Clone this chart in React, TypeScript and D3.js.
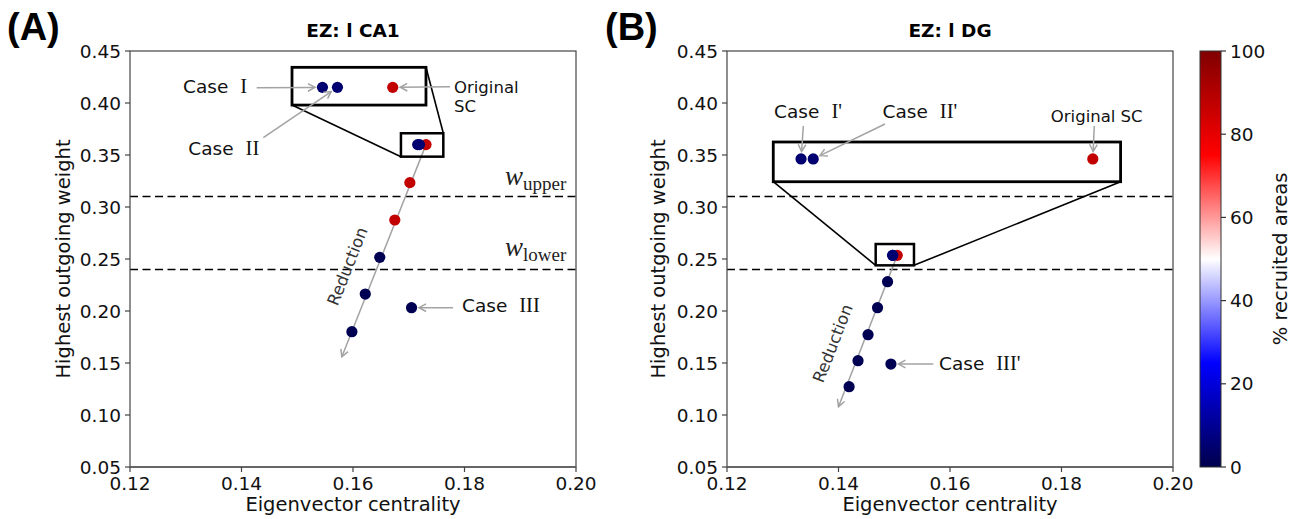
import React from "react";
import * as d3 from "d3";

// ---------------- data ----------------
const xTicks = [0.12, 0.14, 0.16, 0.18, 0.2];
const yTicks = [0.05, 0.1, 0.15, 0.2, 0.25, 0.3, 0.35, 0.4, 0.45];
const cbTicks = [0, 20, 40, 60, 80, 100];
const thresholds = [0.31, 0.24];

// Panel A (EZ: l CA1): reduction trajectory
const aTrendX = [0.1731, 0.1702, 0.1675, 0.1648, 0.1622, 0.1598];
const aTrendY = [0.36, 0.3234, 0.2875, 0.2516, 0.2163, 0.1801];
const aTrendPct = [87, 87, 87, 1, 1, 1];
// Case I, Case II, Case III
const aCaseX = [0.1716, 0.17192, 0.1705];
const aCaseY = [0.36, 0.36, 0.2032];
const aCasePct = [5, 5, 1];
const aReductionEnd = [0.158, 0.156];
const aZoomBox = { x: [0.1686, 0.1762], y: [0.3484, 0.3709] };
const aInsetRect = { x: [0.14906, 0.17309], y: [0.398, 0.4343] };
const aInsetDomX = [0.17095, 0.17381];
const aInsetDomY = [0.3553, 0.3653];

// Panel B (EZ: l DG)
const bTrendX = [0.15054, 0.1488, 0.147, 0.1453, 0.1435, 0.1419];
const bTrendY = [0.2535, 0.2282, 0.2032, 0.1772, 0.1522, 0.1272];
const bTrendPct = [87, 1, 1, 1, 1, 1];
// Case I', Case II', Case III'
const bCaseX = [0.1497, 0.149735, 0.1494];
const bCaseY = [0.2535, 0.2535, 0.149];
const bCasePct = [5, 5, 1];
const bReductionEnd = [0.14, 0.108];
const bZoomBox = { x: [0.14667, 0.15354], y: [0.2439, 0.2644] };
const bInsetRect = { x: [0.1283, 0.1906], y: [0.3243, 0.3625] };
const bInsetDomX = [0.14962, 0.15062];
const bInsetDomY = [0.24777, 0.25777];

const seismic = d3
  .scaleLinear<string>()
  .domain([0, 25, 50, 75, 100])
  .range(["#00004c", "#0000ff", "#ffffff", "#ff0000", "#800000"]);

// ---------------- layout ----------------
const TOP = 51;
const BOTTOM = 467;
const SANS = "DejaVu Sans";
const SERIF = "Liberation Serif";
const GRAY = "#a3a3a3";

type Ann = {
  parts: { t: string; serif?: boolean; dx?: number }[][];
  tx: number;
  ty: number;
  anchor: "start" | "middle";
  size?: number;
  tail: [number, number];
  target: { inset: boolean; idx: number };
};

const aAnns: Ann[] = [
  { parts: [[{ t: "Case" }, { t: "I", serif: true, dx: 12 }]], tx: 0.12951, ty: 0.4157, anchor: "start", tail: [0.14273, 0.4147], target: { inset: true, idx: 0 } },
  { parts: [[{ t: "Case" }, { t: "II", serif: true, dx: 12 }]], tx: 0.13046, ty: 0.3564, anchor: "start", tail: [0.14391, 0.3666], target: { inset: true, idx: 1 } },
  { parts: [[{ t: "Original" }], [{ t: "SC" }]], tx: 0.17812, ty: 0.4157, anchor: "start", size: 16.5, tail: [0.1774, 0.4157], target: { inset: true, idx: 2 } },
  { parts: [[{ t: "Case" }, { t: "III", serif: true, dx: 12 }]], tx: 0.17955, ty: 0.2051, anchor: "start", tail: [0.17794, 0.2032], target: { inset: false, idx: 2 } },
];

const bAnns: Ann[] = [
  { parts: [[{ t: "Case" }, { t: "I'", serif: true, dx: 12 }]], tx: 0.13453, ty: 0.3916, anchor: "middle", tail: [0.13369, 0.3779], target: { inset: true, idx: 0 } },
  { parts: [[{ t: "Case" }, { t: "II'", serif: true, dx: 12 }]], tx: 0.1546, ty: 0.3923, anchor: "middle", tail: [0.14834, 0.3798], target: { inset: true, idx: 1 } },
  { parts: [[{ t: "Original SC" }]], tx: 0.18632, ty: 0.3875, anchor: "middle", size: 16.5, tail: [0.18588, 0.3779], target: { inset: true, idx: 2 } },
  { parts: [[{ t: "Case" }, { t: "III'", serif: true, dx: 12 }]], tx: 0.15803, ty: 0.1497, anchor: "start", tail: [0.157, 0.149], target: { inset: false, idx: 2 } },
];

function shorten(x1: number, y1: number, x2: number, y2: number, s: number) {
  const dx = x2 - x1, dy = y2 - y1;
  const L = Math.hypot(dx, dy);
  return [x2 - (dx / L) * s, y2 - (dy / L) * s];
}

function head(x1: number, y1: number, x2: number, y2: number, len = 8, ang = 0.5) {
  const a = Math.atan2(y2 - y1, x2 - x1);
  const p1 = [x2 - len * Math.cos(a - ang), y2 - len * Math.sin(a - ang)];
  const p2 = [x2 - len * Math.cos(a + ang), y2 - len * Math.sin(a + ang)];
  return `M${p1[0]},${p1[1]}L${x2},${y2}L${p2[0]},${p2[1]}`;
}

type PanelCfg = {
  left: number;
  right: number;
  title: string;
  letter: string;
  letterX: number;
  ylabelX: number;
  trendX: number[];
  trendY: number[];
  trendPct: number[];
  caseX: number[];
  caseY: number[];
  casePct: number[];
  redEnd: number[];
  zoomBox: { x: number[]; y: number[] };
  insetRect: { x: number[]; y: number[] };
  insetDomX: number[];
  insetDomY: number[];
  connectors: [string, string][];
  anns: Ann[];
  wLabels: boolean;
};

function Panel({ c }: { c: PanelCfg }) {
  const x = d3.scaleLinear().domain([0.12, 0.2]).range([c.left, c.right]);
  const y = d3.scaleLinear().domain([0.05, 0.45]).range([BOTTOM, TOP]);
  const ix = d3.scaleLinear().domain(c.insetDomX).range([x(c.insetRect.x[0]), x(c.insetRect.x[1])]);
  const iy = d3.scaleLinear().domain(c.insetDomY).range([y(c.insetRect.y[0]), y(c.insetRect.y[1])]);
  const R = 5.6;

  const corner = (box: { x: number[]; y: number[] }, k: string) => [
    x(k[1] === "l" ? box.x[0] : box.x[1]),
    y(k[0] === "b" ? box.y[0] : box.y[1]),
  ];

  // reduction arrow
  const rx1 = x(c.trendX[0]), ry1 = y(c.trendY[0]);
  const rx2 = x(c.redEnd[0]), ry2 = y(c.redEnd[1]);
  const rAng = (Math.atan2(ry1 - ry2, rx1 - rx2) * 180) / Math.PI;
  const tMid = 0.555;
  const mx = rx1 + (rx2 - rx1) * tMid - 32;
  const my = ry1 + (ry2 - ry1) * tMid + 4;

  const mainPts = c.trendX.map((v, i) => ({ x: x(v), y: y(c.trendY[i]), col: seismic(c.trendPct[i]) }));
  const casePts = c.caseX.map((v, i) => ({ x: x(v), y: y(c.caseY[i]), col: seismic(c.casePct[i]) }));
  const insetPts = [
    ...c.caseX.slice(0, 2).map((v, i) => ({ x: ix(v), y: iy(c.caseY[i]), col: seismic(c.casePct[i]) })),
    { x: ix(c.trendX[0]), y: iy(c.trendY[0]), col: seismic(c.trendPct[0]) },
  ];
  const redPts = mainPts.filter((_, i) => c.trendPct[i] > 50);
  const bluePts = mainPts.filter((_, i) => c.trendPct[i] <= 50);
  const mid = (c.left + c.right) / 2;

  return (
    <g>
      <text x={c.letterX} y={40} fontFamily="Liberation Sans" fontWeight="bold" fontSize={38}>
        {c.letter}
      </text>
      <text x={mid} y={37} textAnchor="middle" fontFamily={SANS} fontWeight="bold" fontSize={18.5}>
        {c.title}
      </text>
      {/* threshold lines */}
      {thresholds.map((t) => (
        <line key={t} x1={c.left} x2={c.right} y1={y(t)} y2={y(t)} stroke="#000" strokeWidth={1.5} strokeDasharray="8,4.5" />
      ))}
      {c.wLabels && (
        <g fontFamily={SERIF} fill="#222">
          <text x={x(0.18726)} y={y(0.3212)} fontSize={27} fontStyle="italic">
            w<tspan fontStyle="normal" fontSize={19} dy={5}>upper</tspan>
          </text>
          <text x={x(0.18726)} y={y(0.2529)} fontSize={27} fontStyle="italic">
            w<tspan fontStyle="normal" fontSize={19} dy={5}>lower</tspan>
          </text>
        </g>
      )}
      {/* reduction arrow */}
      <line x1={rx1} y1={ry1} x2={rx2} y2={ry2} stroke={GRAY} strokeWidth={1.5} />
      <path d={head(rx1, ry1, rx2, ry2)} fill="none" stroke={GRAY} strokeWidth={1.5} />
      <text
        transform={`translate(${mx},${my}) rotate(${rAng})`}
        textAnchor="middle"
        fontFamily={SANS}
        fontSize={16.5}
        fill="#333"
        dy="0.35em"
      >
        Reduction
      </text>
      {/* points */}
      {redPts.map((p, i) => (
        <circle key={"r" + i} cx={p.x} cy={p.y} r={R} fill={p.col} />
      ))}
      {bluePts.map((p, i) => (
        <circle key={"b" + i} cx={p.x} cy={p.y} r={R} fill={p.col} />
      ))}
      {casePts.map((p, i) => (
        <circle key={"c" + i} cx={p.x} cy={p.y} r={R} fill={p.col} />
      ))}
      {/* zoom box & connectors */}
      <rect
        x={x(c.zoomBox.x[0])}
        y={y(c.zoomBox.y[1])}
        width={x(c.zoomBox.x[1]) - x(c.zoomBox.x[0])}
        height={y(c.zoomBox.y[0]) - y(c.zoomBox.y[1])}
        fill="none"
        stroke="#000"
        strokeWidth={2.5}
      />
      {c.connectors.map(([a, b], i) => {
        const p = corner(c.insetRect, a);
        const q = corner(c.zoomBox, b);
        return <line key={i} x1={p[0]} y1={p[1]} x2={q[0]} y2={q[1]} stroke="#000" strokeWidth={1.6} />;
      })}
      <rect
        x={x(c.insetRect.x[0])}
        y={y(c.insetRect.y[1])}
        width={x(c.insetRect.x[1]) - x(c.insetRect.x[0])}
        height={y(c.insetRect.y[0]) - y(c.insetRect.y[1])}
        fill="#fff"
        stroke="#000"
        strokeWidth={2.8}
      />
      {insetPts.map((p, i) => (
        <circle key={"i" + i} cx={p.x} cy={p.y} r={R} fill={p.col} />
      ))}
      {/* annotations */}
      {c.anns.map((a, i) => {
        const tp = a.target.inset ? insetPts[a.target.idx] : casePts[a.target.idx];
        const tx = x(a.tail[0]), ty = y(a.tail[1]);
        const [hx, hy] = shorten(tx, ty, tp.x, tp.y, 7.5);
        const fs = a.size || 18.5;
        return (
          <g key={"a" + i}>
            <line x1={tx} y1={ty} x2={hx} y2={hy} stroke={GRAY} strokeWidth={1.5} />
            <path d={head(tx, ty, hx, hy)} fill="none" stroke={GRAY} strokeWidth={1.5} />
            {a.parts.map((line, li) => (
              <text
                key={li}
                x={x(a.tx)}
                y={y(a.ty) + li * fs * 1.15}
                dy="0.36em"
                textAnchor={a.anchor}
                fontFamily={SANS}
                fontSize={fs}
                fill="#111"
              >
                {line.map((p, pi) =>
                  p.serif ? (
                    <tspan key={pi} fontFamily={SERIF} fontSize={20.5} dx={p.dx}>
                      {p.t}
                    </tspan>
                  ) : (
                    <tspan key={pi}>{p.t}</tspan>
                  )
                )}
              </text>
            ))}
          </g>
        );
      })}
      {/* frame */}
      <rect x={c.left} y={TOP} width={c.right - c.left} height={BOTTOM - TOP} fill="none" stroke="#444" strokeWidth={1.2} />
      <line x1={c.left} x2={c.right} y1={BOTTOM} y2={BOTTOM} stroke="#666" strokeWidth={1.8} />
      {/* ticks */}
      {xTicks.map((t) => (
        <g key={"x" + t}>
          <line x1={x(t)} x2={x(t)} y1={BOTTOM} y2={BOTTOM + 5} stroke="#444" strokeWidth={1.2} />
          <text x={x(t)} y={490} textAnchor="middle" fontFamily={SANS} fontSize={18.5} fill="#111">
            {t.toFixed(2)}
          </text>
        </g>
      ))}
      {yTicks.map((t) => (
        <g key={"y" + t}>
          <line x1={c.left - 5} x2={c.left} y1={y(t)} y2={y(t)} stroke="#444" strokeWidth={1.2} />
          <text x={c.left - 9} y={y(t)} dy="0.36em" textAnchor="end" fontFamily={SANS} fontSize={18.5} fill="#111">
            {t.toFixed(2)}
          </text>
        </g>
      ))}
      <text x={mid} y={511} textAnchor="middle" fontFamily={SANS} fontSize={19.5} fill="#111">
        Eigenvector centrality
      </text>
      <text
        transform={`translate(${c.ylabelX},${(TOP + BOTTOM) / 2}) rotate(-90)`}
        textAnchor="middle"
        dy="0.35em"
        fontFamily={SANS}
        fontSize={19.5}
        fill="#111"
      >
        Highest outgoing weight
      </text>
    </g>
  );
}

function Colorbar() {
  const cx0 = 1200, cx1 = 1221;
  const s = d3.scaleLinear().domain([0, 100]).range([BOTTOM, TOP]);
  const stops = d3.range(0, 101, 5);
  return (
    <g>
      <defs>
        <linearGradient id="seis" x1="0" y1="1" x2="0" y2="0">
          {stops.map((v) => (
            <stop key={v} offset={`${v}%`} stopColor={seismic(v)} />
          ))}
        </linearGradient>
      </defs>
      <rect x={cx0} y={TOP} width={cx1 - cx0} height={BOTTOM - TOP} fill="url(#seis)" stroke="#333" strokeWidth={1} />
      {cbTicks.map((t) => (
        <g key={t}>
          <line x1={cx1} x2={cx1 + 5} y1={s(t)} y2={s(t)} stroke="#333" strokeWidth={1.2} />
          <text x={cx1 + 9} y={s(t)} dy="0.36em" fontFamily={SANS} fontSize={18.5} fill="#111">
            {t}
          </text>
        </g>
      ))}
      <text
        transform={`translate(1280,${(TOP + BOTTOM) / 2}) rotate(-90)`}
        textAnchor="middle"
        dy="0.35em"
        fontFamily={SANS}
        fontSize={19.5}
        fill="#111"
      >
        % recruited areas
      </text>
    </g>
  );
}

const panelA: PanelCfg = {
  left: 130,
  right: 576,
  title: "EZ: l CA1",
  letter: "(A)",
  letterX: 7,
  ylabelX: 63,
  trendX: aTrendX,
  trendY: aTrendY,
  trendPct: aTrendPct,
  caseX: aCaseX,
  caseY: aCaseY,
  casePct: aCasePct,
  redEnd: aReductionEnd,
  zoomBox: aZoomBox,
  insetRect: aInsetRect,
  insetDomX: aInsetDomX,
  insetDomY: aInsetDomY,
  connectors: [
    ["bl", "bl"],
    ["tr", "tr"],
  ],
  anns: aAnns,
  wLabels: true,
};

const panelB: PanelCfg = {
  left: 727,
  right: 1173,
  title: "EZ: l DG",
  letter: "(B)",
  letterX: 605,
  ylabelX: 658,
  trendX: bTrendX,
  trendY: bTrendY,
  trendPct: bTrendPct,
  caseX: bCaseX,
  caseY: bCaseY,
  casePct: bCasePct,
  redEnd: bReductionEnd,
  zoomBox: bZoomBox,
  insetRect: bInsetRect,
  insetDomX: bInsetDomX,
  insetDomY: bInsetDomY,
  connectors: [
    ["bl", "bl"],
    ["br", "br"],
  ],
  anns: bAnns,
  wLabels: false,
};

export default function App() {
  return (
    <svg
      width={1301}
      height={519}
      viewBox="0 0 1301 519"
      style={{ position: "absolute", left: 0, top: 0, background: "#fff" }}
    >
      <rect x={0} y={0} width={1301} height={519} fill="#fff" />
      <Panel c={panelA} />
      <Panel c={panelB} />
      <Colorbar />
    </svg>
  );
}
